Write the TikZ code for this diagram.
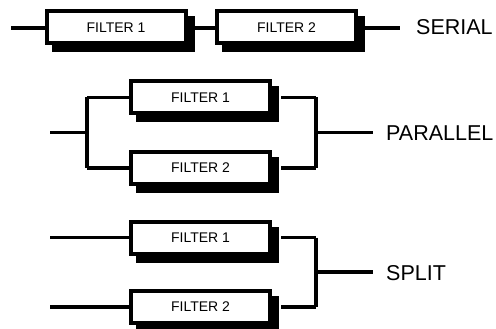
\documentclass[tikz,border=0pt]{standalone}
\usepackage{fontspec}
\setmainfont{Liberation Sans}
\usetikzlibrary{shadows}
\begin{document}
\begin{tikzpicture}[x=1pt,y=-1pt,
  filterbox/.style={draw=black, fill=white, line width=4pt, inner sep=0pt,
    minimum width=139pt, minimum height=32pt, font=\fontsize{14}{14}\selectfont,
    drop shadow={shadow xshift=7pt, shadow yshift=-7pt, fill=black, draw=black,
      line width=4pt, opacity=1}},
  wire/.style={line width=3.3pt, line cap=butt},
  modelabel/.style={anchor=base west, inner sep=0pt, font=\fontsize{21.5}{21.5}\selectfont}]
\useasboundingbox (0,0) rectangle (496,329);

% connection points
\coordinate (sin) at (11,28);
\coordinate (sout) at (400,28);
\coordinate (pin) at (50,132.5);
\coordinate (pl) at (87,132.5);
\coordinate (pr) at (316,132.5);
\coordinate (pout) at (373,132.5);
\coordinate (xin1) at (50,237.5);
\coordinate (xin2) at (50,307);
\coordinate (xr) at (316,272);
\coordinate (xout) at (373,272);

% wires first, boxes on top
\draw[wire] (sin) -- (116,28) -- (286.5,28) -- (sout);
\draw[wire] (pin) -- (pl);
\draw[wire] (pl |- 0,97.3) -- (pl |- 0,168) ;
\draw[wire] (pr |- 0,97.3) -- (pr |- 0,168) ;
\draw[wire] (pr) -- (pout);
\draw[wire] (xr |- 0,237.5) -- (xr |- 0,307);
\draw[wire] (xr) -- (xout);

\node[filterbox] (s1) at (116,27.5) {FILTER 1};
\node[filterbox] (s2) at (286.5,27.5) {FILTER 2};
\node[filterbox] (p1) at (200.5,97.3) {FILTER 1};
\node[filterbox] (p2) at (200.5,168) {FILTER 2};
\node[filterbox] (x1) at (200.5,237.5) {FILTER 1};
\node[filterbox] (x2) at (200.5,307) {FILTER 2};

% branch wires
\draw[wire] (pl |- p1.west) -- (p1.west);
\draw[wire] (pl |- p2.west) -- (p2.west);
\draw[wire] (p1.east) ++(9pt,0) -- (pr |- p1.east);
\draw[wire] (p2.east) ++(9pt,0) -- (pr |- p2.east);
\draw[wire] (xin1) -- (x1.west);
\draw[wire] (xin2) -- (x2.west);
\draw[wire] (x1.east) ++(9pt,0) -- (xr |- x1.east);
\draw[wire] (x2.east) ++(9pt,0) -- (xr |- x2.east);

\node[modelabel] (lserial) at (416,35) {SERIAL};
\node[modelabel] (lpar) at (386,140) {PARALLEL};
\node[modelabel] (lsplit) at (386,280) {SPLIT};
\end{tikzpicture}
\end{document}
